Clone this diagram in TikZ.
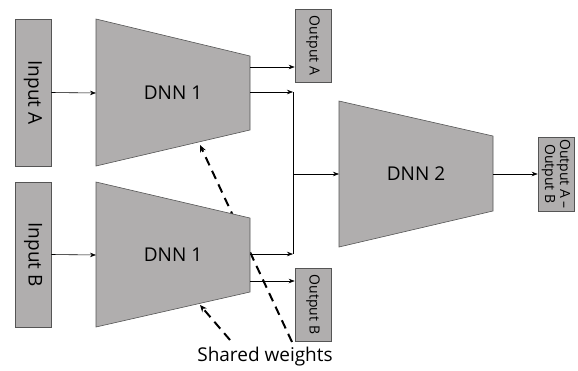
\documentclass[tikz,border=0pt]{standalone}
\usepackage{fontspec}
\setmainfont{Open Sans}
\usepackage{xcolor}
\usepackage{tikz}
\usetikzlibrary{arrows.meta,positioning,calc}
\definecolor{boxgray}{RGB}{176,174,174}
\definecolor{edgegray}{RGB}{85,85,85}
\newcommand\bigtxt{\fontsize{19}{22}\selectfont}
\newcommand\smalltxt{\fontsize{14}{15}\selectfont}

\begin{document}
\begin{tikzpicture}[>=Stealth,x=1pt,y=-1pt,
box/.style={draw=edgegray,fill=boxgray,inner sep=0pt,rotate=-90,minimum height=36pt,line width=0.6pt},
net/.style={draw=edgegray,fill=boxgray,line width=0.6pt},
conn/.style={-{Stealth[length=6pt,width=4.5pt]},line width=0.6pt},
shared/.style={-{Stealth[length=7pt,width=6pt]},line width=2pt,dash pattern=on 9pt off 6pt}]
\useasboundingbox (0,0) rectangle (578,370);
\node[box,minimum width=147pt,font=\bigtxt] (inA) at (33,92.5) {Input A};
\node[box,minimum width=145pt,font=\bigtxt] (inB) at (33,254.5) {Input B};
\node[box,minimum width=73pt,font=\smalltxt] (outA) at (313,45.5) {Output A};
\node[box,minimum width=73pt,font=\smalltxt] (outB) at (313,304.5) {Output B};
\node[box,minimum width=74pt,font=\smalltxt,align=center] (outAB) at (556,174) {Output A –\\Output B};
\node[font=\bigtxt] (sw) at (265,357) {Shared weights};
\coordinate (swA) at (292,342);
\coordinate (swB) at (230,340);
\coordinate (dAw) at (200,145);
\coordinate (dBw) at (200,305);
\draw[shared](swA)--(dAw);
\draw[net](96,19)--(250,56)--(250,130)--(96,166)--cycle;
\draw[net](96,182)--(250,218)--(250,292)--(96,327)--cycle;
\draw[net](339,101)--(493,136)--(493,211)--(339,247)--cycle;
\node[font=\bigtxt] (dnnA) at (173,93) {DNN 1};
\node[font=\bigtxt] (dnnB) at (173,255) {DNN 1};
\node[font=\bigtxt] (dnnC) at (416,174) {DNN 2};
\draw[shared](swB)--(dBw);
\coordinate (dAin) at (96,93);
\coordinate (dBin) at (96,255);
\coordinate (dAo1) at (250,67);
\coordinate (dAo2) at (250,92);
\coordinate (dBo1) at (250,254);
\coordinate (dBo2) at (250,281);
\coordinate (jA) at (293,92);
\coordinate (jB) at (293,254);
\coordinate (jM) at (293,174);
\coordinate (d2in) at (339,174);
\coordinate (d2out) at (493,174);
\draw[conn](inA.north)--(dAin);
\draw[conn](inB.north)--(dBin);
\draw[conn](dAo1)--(dAo1-|outA.south);
\draw[conn](dAo2)--(jA);
\draw[conn](dBo1)--(jB);
\draw[conn](dBo2)--(dBo2-|outB.south);
\draw[line width=0.6pt](jA)--(jB);
\draw[conn](jM)--(d2in);
\draw[conn](d2out)--(outAB.south);
\end{tikzpicture}
\end{document}
